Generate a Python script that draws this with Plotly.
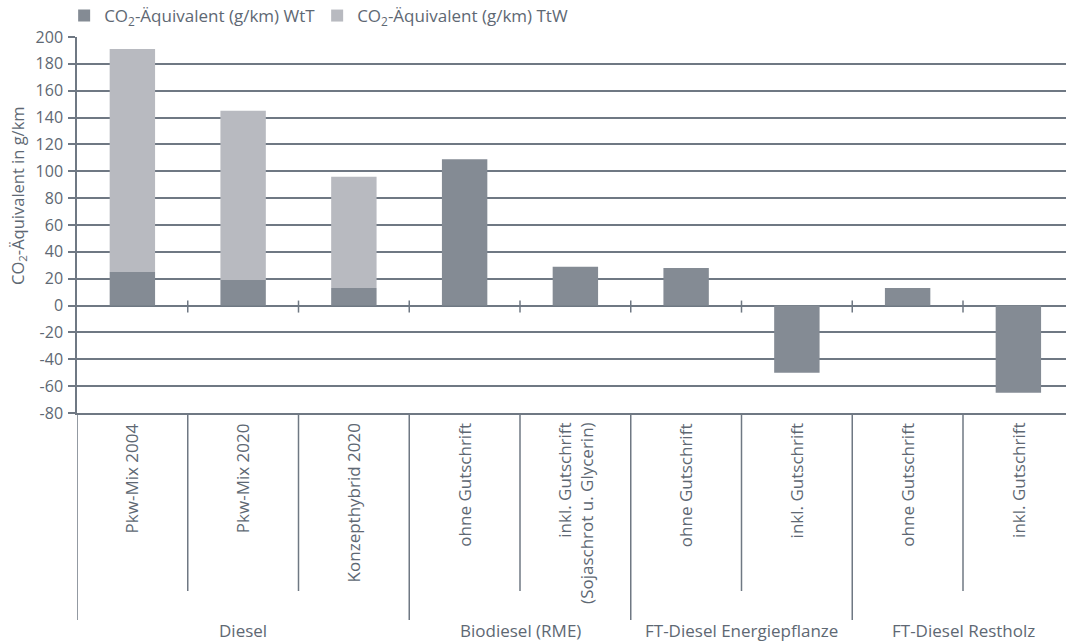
import plotly.graph_objects as go

categories = ["Pkw-Mix 2004", "Pkw-Mix 2020", "Konzepthybrid 2020", "ohne Gutschrift",
              "inkl. Gutschrift<br>(Sojaschrot u. Glycerin)", "ohne Gutschrift ",
              "inkl. Gutschrift", "ohne Gutschrift  ", "inkl. Gutschrift "]
wtt = [25, 19, 13, 109, 29, 28, -50, 13, -65]
ttw = [166, 126, 83, None, None, None, None, None, None]
groups = ["Diesel", "Biodiesel (RME)", "FT-Diesel Energiepflanze", "FT-Diesel Restholz"]
group_members = [[0, 1, 2], [3, 4], [5, 6], [7, 8]]
y_ticks = list(range(-80, 201, 20))
y_tick_labels = [str(v) for v in y_ticks]

W, H = 1066, 643
ML, MR, MT, MB = 77, 0, 37, 230
PH = H - MT - MB
PW = W - ML - MR

dark = "#848b94"
light = "#b8bac0"
txt = "#5e6873"
grid = "#6f7883"
FONT = "Open Sans"

fig = go.Figure()
xs = list(range(len(categories)))
fig.add_bar(x=xs, y=wtt, name="CO<sub>2</sub>-Äquivalent (g/km) WtT",
            marker=dict(color=dark, line=dict(width=0)), width=0.41)
fig.add_bar(x=xs, y=ttw, name="CO<sub>2</sub>-Äquivalent (g/km) TtW",
            marker=dict(color=light, line=dict(width=0)), width=0.41)

shapes = []
# boundary ticks on zero line
for i in range(1, len(categories)):
    shapes.append(dict(type="line", xref="x", yref="y", x0=i - 0.5, x1=i - 0.5,
                       ysizemode="pixel", yanchor=0, y0=-7, y1=5,
                       line=dict(color=grid, width=1.5), layer="above"))
# dividers below the plot
group_bounds = set()
for g in group_members:
    group_bounds.add(g[0] - 0.5)
for i in range(len(categories)):
    b = i - 0.5
    depth = 207 if b in group_bounds else 178
    shapes.append(dict(type="line", xref="x", yref="paper", x0=b, x1=b,
                       y0=0, y1=-depth / PH, line=dict(color=grid, width=1.5)))

annotations = []
for i, c in enumerate(categories):
    annotations.append(dict(x=i, y=-8 / PH, xref="x", yref="paper", text=c.strip(),
                            textangle=-90, xanchor="center", yanchor="top", align="right",
                            showarrow=False, font=dict(family=FONT, size=17, color=txt)))
for gname, g in zip(groups, group_members):
    cx = sum(g) / len(g)
    annotations.append(dict(x=cx, y=-217 / PH, xref="x", yref="paper", text=gname,
                            xanchor="center", yanchor="middle", showarrow=False,
                            font=dict(family=FONT, size=17, color=txt)))
annotations.append(dict(x=-(ML - 18) / PW, y=(H - MB - 196) / PH,
                        xref="paper", yref="paper", text="CO<sub>2</sub>-Äquivalent in g/km",
                        textangle=-90, xanchor="center", yanchor="middle", showarrow=False,
                        font=dict(family=FONT, size=16.5, color=txt)))

fig.update_layout(
    width=W, height=H,
    margin=dict(l=ML, r=MR, t=MT, b=MB, pad=0, autoexpand=False),
    paper_bgcolor="white", plot_bgcolor="white",
    barmode="relative",
    font=dict(family=FONT, size=16, color=txt),
    showlegend=True,
    legend=dict(orientation="h", x=-0.013, xanchor="left", y=(H - MB - 16) / PH,
                yanchor="middle", font=dict(family=FONT, size=17, color=txt),
                entrywidth=208, entrywidthmode="pixels", itemwidth=30,
                bgcolor="rgba(0,0,0,0)", traceorder="normal"),
    xaxis=dict(range=[-0.5, 8.43], showticklabels=False, ticks="", showgrid=False,
               zeroline=False, showline=True, linecolor=grid, linewidth=1.5, fixedrange=True),
    yaxis=dict(range=[-80, 200], tickvals=y_ticks, ticktext=y_tick_labels,
               ticks="outside", ticklen=7,
               tickcolor=grid, tickwidth=1.5, showgrid=True, gridcolor=grid, gridwidth=1.5,
               zeroline=True, zerolinecolor=grid, zerolinewidth=1.5,
               showline=True, linecolor=grid, linewidth=1.5,
               tickfont=dict(family=FONT, size=16, color=txt), ticklabelstandoff=2),
    shapes=shapes, annotations=annotations,
)

fig.write_html("out.html", config={"displayModeBar": False},
               post_script="document.body.style.margin='0';document.body.style.padding='0';")
